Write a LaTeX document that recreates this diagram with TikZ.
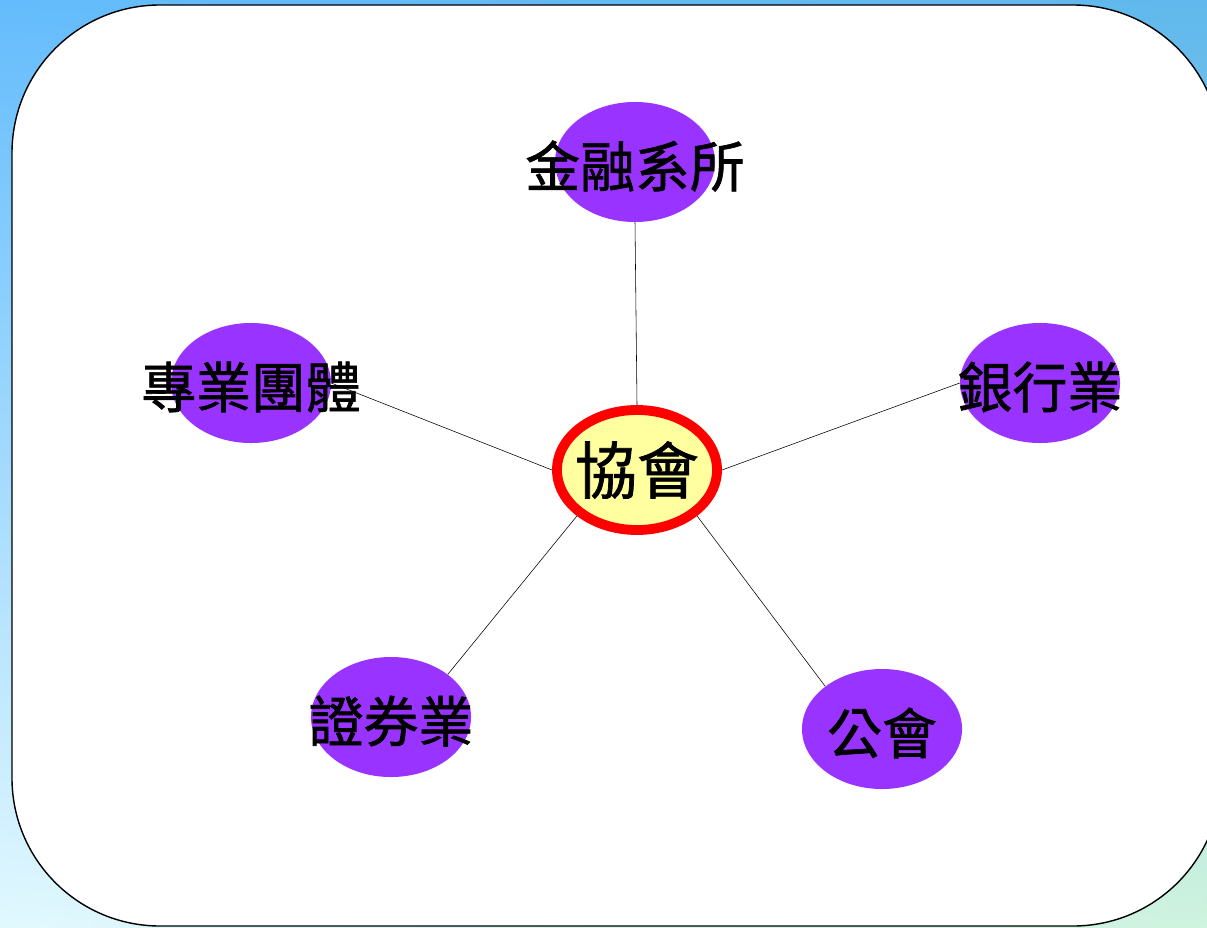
\documentclass[tikz,border=0pt]{standalone}
\usepackage{fontspec}
\newfontfamily\cjk{Noto Sans CJK TC}[FakeBold=1.2]
\usetikzlibrary{shapes.geometric,shadings}

\definecolor{satpurple}{RGB}{153,51,255}
\definecolor{assocfill}{RGB}{255,255,160}
\definecolor{bgul}{RGB}{100,188,252}
\definecolor{bgur}{RGB}{96,184,236}
\definecolor{bgll}{RGB}{225,248,255}
\definecolor{bglr}{RGB}{206,243,222}

\tikzset{
  sat/.style={ellipse,fill=satpurple,minimum width=4cm,minimum height=3cm,inner sep=0pt},
  sattext/.style={font=\cjk\fontsize{39}{39}\selectfont,yshift=-0.1cm},
  assoc/.style={ellipse,draw=red,line width=7pt,fill=assocfill,minimum width=4cm,minimum height=3cm,inner sep=0pt},
  assoctext/.style={font=\cjk\fontsize{44}{44}\selectfont}
}

\begin{document}
\begin{tikzpicture}[x=0.025cm,y=-0.025cm]
  \clip (0,0) rectangle (1207,927);
  \shade[upper left=bgul,upper right=bgur,lower left=bgll,lower right=bglr] (0,0) rectangle (1207,927);
  \draw[fill=white,line width=1pt,rounded corners=3.7cm] (12,5) rectangle (1221,926);

  \node[sat,label={[sattext]center:金融系所}] (fin) at (635,162) {};
  \node[sat,label={[sattext]center:專業團體}] (prof) at (251,383) {};
  \node[sat,label={[sattext]center:銀行業}] (bank) at (1040,383) {};
  \node[sat,label={[sattext]center:證券業}] (sec) at (391,717) {};
  \node[sat,label={[sattext]center:公會}] (union) at (882,729) {};
  \node[assoc,label={[assoctext]center:協會}] (hub) at (637,470) {};

  \draw (hub.north) -- (fin.south);
  \draw (hub.west) -- (prof.east);
  \draw (hub.east) -- (bank.west);
  \draw (hub.south west) -- (sec.north east);
  \draw (hub.south east) -- (union.north west);
\end{tikzpicture}
\end{document}
